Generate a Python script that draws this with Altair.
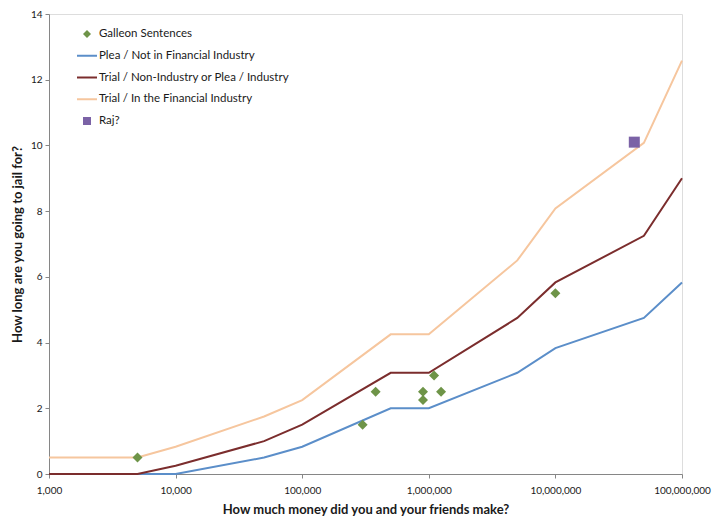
import altair as alt
import pandas as pd

# ---- data ----
amounts = [1000, 5000, 10000, 50000, 100000, 500000, 1000000,
           5000000, 10000000, 50000000, 100000000]
plea_not_industry = [0, 0, 0, 0.5, 0.83, 2.0, 2.0, 3.08, 3.83, 4.75, 5.83]
trial_or_plea_industry = [0, 0, 0.25, 1.0, 1.5, 3.08, 3.08, 4.75, 5.83, 7.25, 9.0]
trial_industry = [0.5, 0.5, 0.83, 1.75, 2.25, 4.25, 4.25, 6.5, 8.08, 10.08, 12.58]

galleon_amounts = [5000, 300000, 380000, 900000, 900000, 1100000, 1250000, 10000000]
galleon_years = [0.5, 1.5, 2.5, 2.5, 2.25, 3.0, 2.5, 5.5]

raj_amounts = [42000000]
raj_years = [10.1]

series_names = ["Galleon Sentences",
                "Plea / Not in Financial Industry",
                "Trial / Non-Industry or Plea / Industry",
                "Trial / In the Financial Industry",
                "Raj?"]
series_kinds = ["point", "line", "line", "line", "point"]
series_colors = ["#6E9448", "#5B8EC9", "#7B2D2D", "#F6C69E", "#7B62A6"]
diamond = "M0,-1L1,0L0,1L-1,0Z"
square = "M-1,-1H1V1H-1Z"
series_shapes = [diamond, "circle", "circle", "circle", square]

x_ticks = [1000, 10000, 100000, 1000000, 10000000, 100000000]
y_ticks = [0, 2, 4, 6, 8, 10, 12, 14]

# ---- tables ----
line_rows = []
for name, vals in zip(series_names[1:4], [plea_not_industry, trial_or_plea_industry, trial_industry]):
    for a, v in zip(amounts, vals):
        line_rows.append({"series": name, "amount": a, "years": v})
lines_df = pd.DataFrame(line_rows)
galleon_df = pd.DataFrame({"series": series_names[0], "amount": galleon_amounts, "years": galleon_years})
raj_df = pd.DataFrame({"series": series_names[4], "amount": raj_amounts, "years": raj_years})
legend_df = pd.DataFrame({"series": series_names, "kind": series_kinds})

axis_common = dict(grid=False, domainColor="#868686", tickColor="#868686",
                   labelColor="#1a1a1a", titleColor="#1a1a1a", labelFontSize=10,
                   titleFontSize=13, titleFontWeight="bold", tickSize=4,
                   labelFont="Lato", titleFont="Lato")

X = alt.X("amount:Q",
          scale=alt.Scale(type="log", domain=[1000, 100000000], nice=False),
          axis=alt.Axis(values=x_ticks, format=",", labelFlush=False,
                        title="How much money did you and your friends make?",
                        labelPadding=7, titlePadding=8, **axis_common))
Y = alt.Y("years:Q",
          scale=alt.Scale(domain=[0, 14], nice=False),
          axis=alt.Axis(values=y_ticks, title="How long are you going to jail for?",
                        labelPadding=3, titlePadding=6, **axis_common))

color_scale = alt.Scale(domain=series_names, range=series_colors)
shape_scale = alt.Scale(domain=series_names, range=series_shapes)

# ---- data layers ----
main_layers = []
for name in series_names[1:4]:
    main_layers.append(
        alt.Chart(lines_df).transform_filter(alt.datum.series == name)
        .mark_line(strokeWidth=2)
        .encode(x=X, y=Y, color=alt.Color("series:N", scale=color_scale, legend=None))
    )
main_layers.append(
    alt.Chart(galleon_df).mark_point(filled=True, size=100, opacity=1, strokeWidth=0)
    .encode(x=X, y=Y,
            color=alt.Color("series:N", scale=color_scale, legend=None),
            shape=alt.Shape("series:N", scale=shape_scale, legend=None))
)
main_layers.append(
    alt.Chart(raj_df).mark_point(filled=True, size=121, opacity=1, strokeWidth=0)
    .encode(x=X, y=Y,
            color=alt.Color("series:N", scale=color_scale, legend=None),
            shape=alt.Shape("series:N", scale=shape_scale, legend=None))
)
main = alt.layer(*main_layers)

# ---- legend built from marks ----
legend_y = alt.Y("series:N",
                 scale=alt.Scale(type="point", domain=series_names, range=[20, 107], padding=0),
                 axis=None)
leg_lines = (alt.Chart(legend_df).transform_filter(alt.datum.kind == "line")
             .mark_rule(strokeWidth=2)
             .encode(x=alt.value(28), x2=alt.value(48), y=legend_y,
                     color=alt.Color("series:N", scale=color_scale, legend=None)))
leg_points = (alt.Chart(legend_df).transform_filter(alt.datum.kind == "point")
              .mark_point(filled=True, size=64, opacity=1, strokeWidth=0)
              .encode(x=alt.value(38), y=legend_y,
                      color=alt.Color("series:N", scale=color_scale, legend=None),
                      shape=alt.Shape("series:N", scale=shape_scale, legend=None)))
leg_text = (alt.Chart(legend_df)
            .mark_text(align="left", baseline="middle", font="Lato", fontSize=11.5, color="#1a1a1a")
            .encode(x=alt.value(50), y=legend_y, text="series:N"))
leg = alt.layer(leg_lines, leg_points, leg_text)

chart = (
    alt.layer(main, leg)
    .resolve_scale(y="independent")
    .properties(width=633, height=460,
                autosize=alt.AutoSizeParams(type="none"),
                padding={"left": 41, "top": 6, "right": 34, "bottom": 43},
                background="white")
    .configure_view(stroke=None)
    .configure(font="Lato")
)

chart.save("out.html", embed_options={"renderer": "svg", "actions": False})
